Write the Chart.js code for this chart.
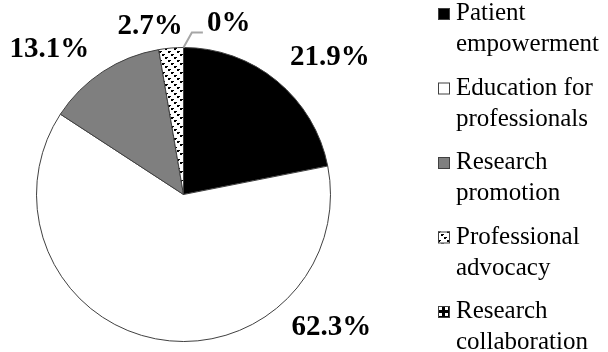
<!DOCTYPE html>
<html>
<head>
<meta charset="utf-8">
<script src="https://cdn.jsdelivr.net/npm/chart.js@4.4.1/dist/chart.umd.min.js"></script>
<style>
  html, body { margin: 0; padding: 0; background: #fff; }
  #wrap { width: 608px; height: 352px; }
</style>
</head>
<body>
<div id="wrap"><canvas id="pieChart" width="608" height="352"></canvas></div>
<script>
// Shares of responses by area
const categories = [
  ['Patient', 'empowerment'],
  ['Education for', 'professionals'],
  ['Research', 'promotion'],
  ['Professional', 'advocacy'],
  ['Research', 'collaboration']
];
const shares = [21.9, 62.3, 13.1, 2.7, 0];

// where each percentage sits: [degrees clockwise from top, distance in radii]
const labelSpots = [[46.6, 1.37], [131.8, 1.35], [317.5, 1.35], [348.8, 1.172], [14.7, 1.21]];

const SERIF = '"Liberation Serif", "Times New Roman", Times, serif';

function diagonalDashes() {
  const c = document.createElement('canvas');
  c.width = c.height = 9;
  const g = c.getContext('2d');
  g.fillStyle = '#fff';
  g.fillRect(0, 0, 9, 9);
  g.fillStyle = '#000';
  for (let i = 0; i < 9; i += 3) {
    g.fillRect(i, i, 2, 2);
    g.fillRect((i + 2) % 9, i, 1, 1);
  }
  return g.createPattern(c, 'repeat');
}

function largeGrid() {
  const c = document.createElement('canvas');
  c.width = c.height = 6;
  const g = c.getContext('2d');
  g.fillStyle = '#000';
  g.fillRect(0, 0, 6, 6);
  g.fillStyle = '#fff';
  g.fillRect(1, 1, 3, 3);
  return g.createPattern(c, 'repeat');
}

const fills = ['#000000', '#ffffff', '#7f7f7f', diagonalDashes(), largeGrid()];

const pctLabels = {
  id: 'pctLabels',
  afterDatasetsDraw(chart) {
    const ctx = chart.ctx;
    const arcs = chart.getDatasetMeta(0).data;
    ctx.save();
    ctx.font = 'bold 29px ' + SERIF;
    ctx.fillStyle = '#000';
    ctx.textAlign = 'center';
    ctx.textBaseline = 'middle';
    arcs.forEach((arc, i) => {
      const [deg, k] = labelSpots[i];
      const a = deg * Math.PI / 180;
      const r = arc.outerRadius;
      const x = arc.x + Math.sin(a) * r * k;
      const y = arc.y - Math.cos(a) * r * k;
      const text = shares[i] + '%';
      ctx.fillText(text, x, y + 1);
      if (shares[i] === 0) {
        // leader from the empty slice to its label
        const left = x - ctx.measureText(text).width / 2;
        const mid = (arc.startAngle + arc.endAngle) / 2;
        ctx.strokeStyle = '#a6a6a6';
        ctx.lineWidth = 2;
        ctx.beginPath();
        ctx.moveTo(arc.x + Math.cos(mid) * r, arc.y + Math.sin(mid) * r);
        ctx.lineTo(left - 15, y + 10);
        ctx.lineTo(left - 4, y + 10);
        ctx.stroke();
      }
    });
    ctx.restore();
  }
};

const sideLegend = {
  id: 'sideLegend',
  afterDraw(chart) {
    const ctx = chart.ctx;
    ctx.save();
    ctx.font = '25px ' + SERIF;
    ctx.textAlign = 'left';
    ctx.textBaseline = 'alphabetic';
    categories.forEach((lines, i) => {
      const top = 8 + i * 74.5;
      ctx.fillStyle = fills[i];
      ctx.fillRect(438, top, 12, 12);
      ctx.strokeStyle = '#404040';
      ctx.lineWidth = 1;
      ctx.strokeRect(438.5, top + 0.5, 11, 11);
      ctx.fillStyle = '#000';
      lines.forEach((t, j) => ctx.fillText(t, 456, top + 12 + j * 31));
    });
    ctx.restore();
  }
};

function build() {
  new Chart(document.getElementById('pieChart'), {
    type: 'pie',
    data: {
      labels: categories,
      datasets: [{
        data: shares,
        backgroundColor: fills,
        borderColor: '#404040',
        borderWidth: 1
      }]
    },
    options: {
      responsive: false,
      animation: false,
      events: [],
      layout: { padding: { left: 0, top: 47, right: 241, bottom: 10 } },
      plugins: {
        legend: { display: false },
        tooltip: { enabled: false }
      }
    },
    plugins: [pctLabels, sideLegend]
  });
}

Promise.all([
  document.fonts.load('25px "Liberation Serif"'),
  document.fonts.load('bold 29px "Liberation Serif"')
]).then(build, build);
</script>
</body>
</html>
